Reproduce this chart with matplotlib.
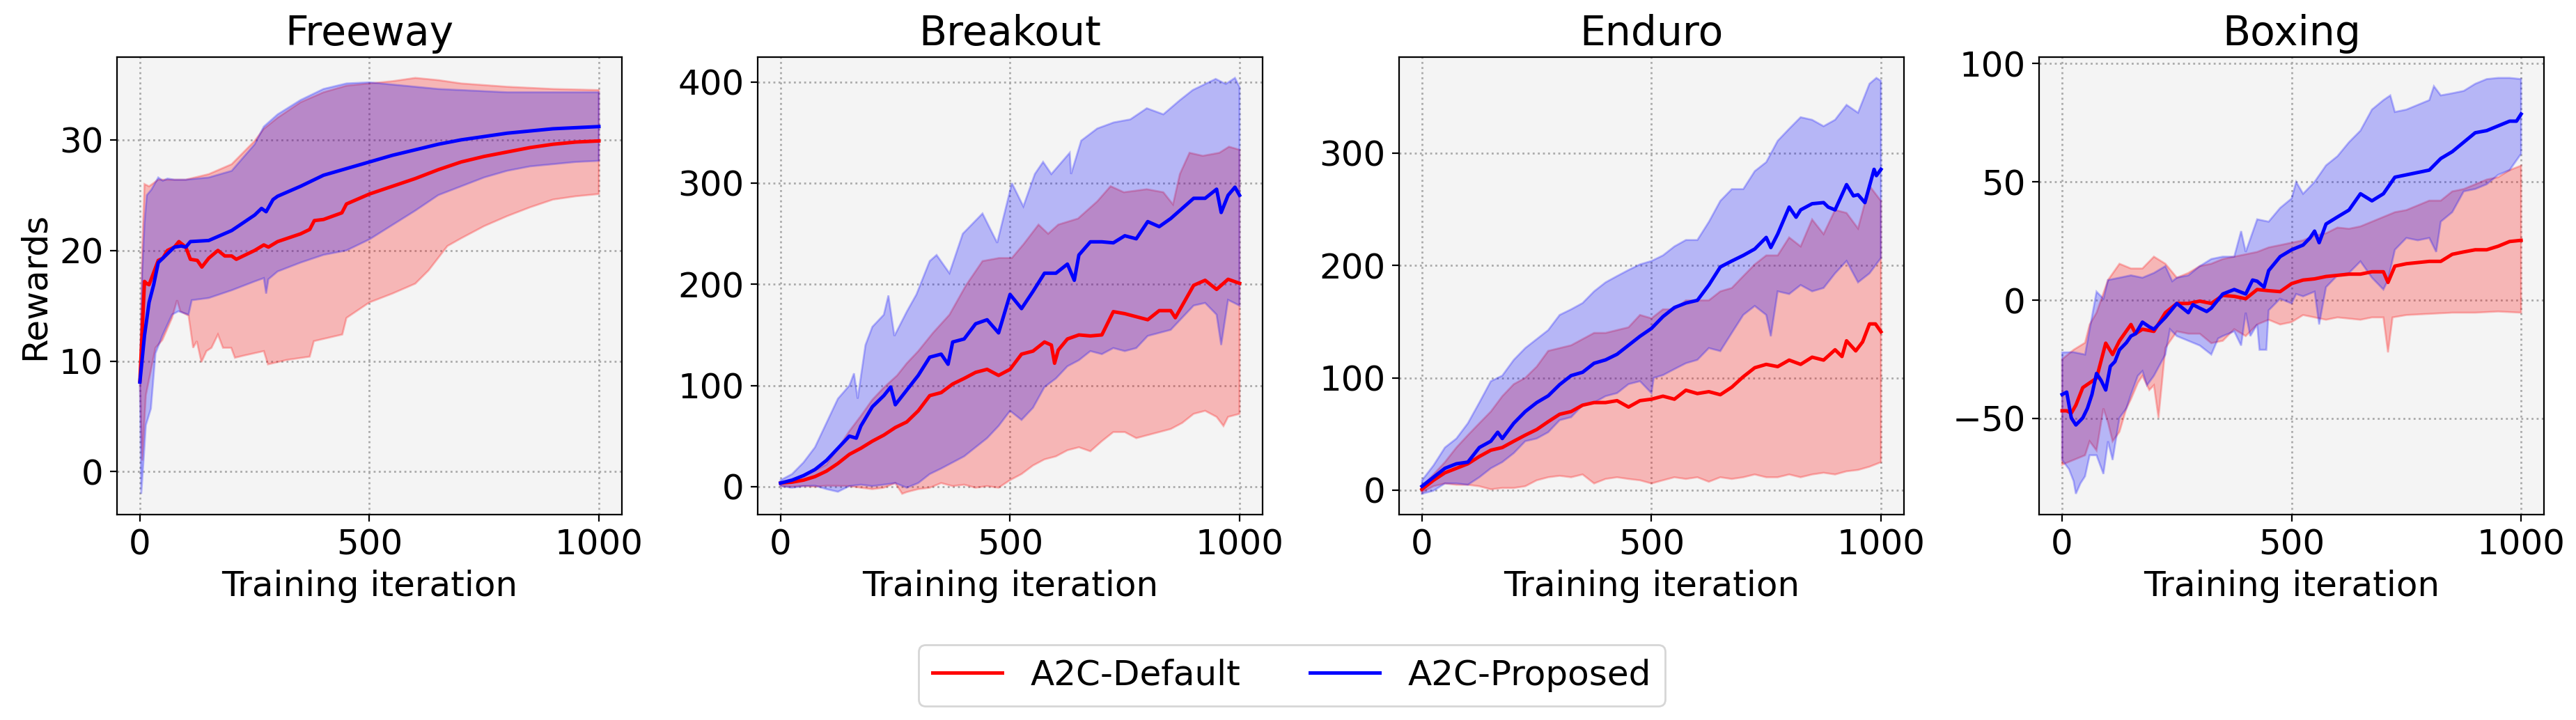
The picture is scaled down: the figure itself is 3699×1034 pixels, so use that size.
import numpy as np
import matplotlib
matplotlib.use("Agg")
import matplotlib.pyplot as plt

# (iteration, reward) points
# ---- Freeway ----
freeway_default_mean = [(0, 8.2), (10, 17.2), (15, 17.0), (20, 16.9), (30, 18.0), (40, 19.1), (50, 19.3), (60, 20.0),
                        (75, 20.3), (85, 20.8), (100, 20.3), (110, 19.2), (125, 19.1), (135, 18.5), (150, 19.3),
                        (170, 20.0), (185, 19.5), (200, 19.5), (210, 19.2), (250, 20.0), (270, 20.5), (280, 20.3),
                        (300, 20.8), (350, 21.5), (370, 21.9), (380, 22.7), (400, 22.8), (440, 23.4), (450, 24.2),
                        (500, 25.1), (550, 25.8), (600, 26.5), (650, 27.3), (700, 28.0), (750, 28.5), (800, 28.9),
                        (850, 29.3), (900, 29.6), (950, 29.8), (1000, 29.9)]
freeway_default_low = [(0, 8.2), (5, 1.0), (13, 6.9), (34, 11.2), (49, 11.9), (70, 13.9), (81, 15.5), (88, 14.5),
                       (106, 14.1), (116, 11.2), (124, 11.8), (134, 9.9), (145, 10.9), (156, 11.2), (170, 12.4),
                       (181, 11.2), (199, 11.2), (207, 10.3), (227, 10.5), (270, 10.9), (279, 9.7), (320, 10.1),
                       (370, 10.4), (379, 11.8), (441, 12.4), (450, 13.9), (500, 15.3), (550, 16.1), (600, 17.0),
                       (629, 18.2), (670, 20.4), (700, 21.1), (750, 22.2), (800, 23.1), (850, 23.9), (900, 24.6),
                       (950, 24.9), (1000, 25.1)]
freeway_default_high = [(0, 8.2), (5, 20.0), (10, 26.0), (20, 25.8), (40, 26.4), (100, 26.4), (150, 26.9),
                        (200, 27.8), (250, 29.9), (270, 31.0), (300, 32.0), (350, 33.4), (400, 34.3), (450, 34.9),
                        (500, 35.1), (550, 35.3), (600, 35.6), (650, 35.4), (700, 35.1), (800, 34.8), (900, 34.6),
                        (1000, 34.5)]
freeway_proposed_mean = [(0, 8.1), (10, 12.3), (20, 15.3), (30, 16.9), (40, 18.9), (50, 19.3), (60, 19.7),
                         (75, 20.3), (90, 20.4), (100, 20.3), (110, 20.8), (150, 20.9), (200, 21.8), (250, 23.2),
                         (265, 23.8), (275, 23.5), (290, 24.6), (300, 24.9), (350, 25.8), (400, 26.8), (450, 27.4),
                         (500, 28.0), (550, 28.6), (600, 29.1), (650, 29.6), (700, 30.0), (750, 30.3), (800, 30.6),
                         (850, 30.8), (900, 31.0), (950, 31.1), (1000, 31.2)]
freeway_proposed_low = [(0, 8.0), (3, -2.0), (8, 1.0), (13, 4.2), (24, 5.7), (34, 10.7), (49, 12.3), (70, 14.2),
                        (84, 14.5), (106, 14.2), (113, 15.5), (150, 15.7), (200, 16.4), (250, 17.2), (270, 17.5),
                        (275, 16.1), (280, 17.4), (300, 18.1), (350, 18.9), (400, 19.6), (450, 20.0), (500, 21.0),
                        (550, 22.3), (600, 23.6), (650, 25.0), (700, 25.8), (750, 26.6), (800, 27.2), (850, 27.6),
                        (900, 27.8), (950, 28.0), (1000, 28.1)]
freeway_proposed_high = [(0, 8.0), (5, 18.0), (10, 22.5), (15, 25.0), (25, 25.5), (40, 26.6), (50, 26.3),
                         (60, 26.5), (75, 26.4), (100, 26.4), (150, 26.6), (200, 27.2), (250, 29.6), (270, 31.2),
                         (300, 32.3), (350, 33.6), (400, 34.6), (450, 35.1), (500, 35.2), (550, 35.0), (600, 34.8),
                         (650, 34.6), (700, 34.5), (800, 34.3), (900, 34.3), (1000, 34.3)]

# ---- Breakout ----
breakout_default_mean = [(0, 3.6), (25, 4.5), (50, 6.5), (75, 10), (100, 15.4), (125, 23), (150, 32), (175, 38),
                         (200, 45), (225, 51), (250, 58.5), (275, 64), (300, 75), (325, 90), (350, 93), (375, 101.5),
                         (400, 107), (425, 113), (450, 116), (475, 110), (500, 116), (525, 131), (550, 134),
                         (575, 143), (590, 140), (597, 122), (605, 135), (625, 146), (650, 150), (675, 149),
                         (700, 150), (725, 173), (750, 171), (775, 168), (800, 165), (825, 174), (850, 174),
                         (860, 167), (875, 179), (900, 199), (925, 204), (950, 195), (975, 205), (1000, 201)]
breakout_default_low = [(0, 0.6), (25, 0), (50, 0.6), (75, 0), (100, 1), (150, 0.6), (175, -1), (200, -2.4),
                        (225, -1), (250, 3.6), (265, -7), (275, -5.3), (300, -2.4), (325, -1), (350, 3.6),
                        (375, 0.6), (400, 2), (425, -1), (450, 0.6), (475, -1), (500, 6.5), (525, 12.5), (550, 21),
                        (575, 27), (600, 30), (625, 36), (650, 39), (675, 35), (700, 45), (725, 54), (750, 54),
                        (775, 48), (800, 51), (825, 54), (850, 57), (875, 63), (900, 72), (925, 75), (950, 69),
                        (965, 60), (975, 69), (1000, 72)]
breakout_default_high = [(0, 3.6), (25, 6.5), (50, 11), (75, 16), (100, 22), (125, 38), (150, 55), (175, 70),
                         (200, 86), (225, 98), (254, 110), (275, 122), (300, 134), (332, 152), (368, 170),
                         (404, 199), (440, 223), (476, 226), (504, 226), (530, 240), (562, 259), (583, 250),
                         (605, 259), (648, 265), (690, 282), (719, 297), (748, 291), (798, 294), (834, 291),
                         (855, 279), (870, 309), (891, 330), (920, 327), (956, 330), (977, 336), (1000, 333)]
breakout_proposed_mean = [(0, 3.6), (25, 6.5), (50, 11), (75, 17), (100, 26), (125, 38), (150, 50), (165, 48),
                          (175, 60), (200, 79), (225, 90), (240, 98.5), (250, 81), (275, 95.5), (300, 110),
                          (325, 128), (350, 131), (365, 121), (375, 143), (400, 146), (425, 161), (450, 165),
                          (475, 152), (500, 190), (525, 176), (550, 193), (575, 211), (600, 211), (625, 220),
                          (640, 204), (650, 229), (675, 242), (700, 242), (725, 241), (750, 248), (775, 245),
                          (800, 262), (825, 257), (850, 265), (875, 275), (900, 285), (925, 285), (950, 294),
                          (960, 271), (975, 288), (990, 296), (1000, 288)]
breakout_proposed_low = [(0, 0.6), (25, -1), (50, 0.6), (75, 1), (100, -2.4), (125, -5), (150, 0.6), (175, 2),
                         (200, 0.6), (225, 2), (250, 3.6), (275, -1), (300, 3.6), (325, 12.5), (350, 18), (375, 24),
                         (400, 30), (425, 39), (450, 48), (475, 60), (500, 75), (525, 66), (550, 78), (575, 98.5),
                         (600, 107), (625, 119), (650, 125), (675, 134), (700, 131), (725, 137), (750, 134),
                         (775, 137), (800, 149), (825, 152), (850, 155), (875, 167), (900, 179), (925, 181.6),
                         (950, 170), (960, 140), (975, 184.6), (1000, 179)]
breakout_proposed_high = [(0, 6.5), (25, 12.5), (50, 24), (75, 39), (100, 63), (125, 87), (150, 100), (160, 112),
                          (168, 87), (185, 140), (200, 158), (225, 170), (235, 189), (248, 149), (275, 173),
                          (296, 190), (325, 223), (340, 229), (368, 211), (397, 250), (440, 270), (472, 241),
                          (504, 300), (529, 277), (554, 309), (572, 321), (590, 309), (630, 330), (633, 309),
                          (655, 342), (690, 354), (726, 360), (762, 363), (798, 374), (834, 368), (870, 382),
                          (898, 392), (948, 403), (970, 398), (990, 404), (1000, 395)]

# ---- Enduro ----
enduro_default_mean = [(0, 0.8), (25, 8.8), (50, 15.5), (75, 19.5), (100, 23.5), (125, 30), (150, 35.6),
                       (175, 38), (200, 43.6), (225, 49), (250, 54), (275, 61), (300, 67.6), (325, 70),
                       (350, 75.7), (375, 78), (400, 78), (425, 79.7), (450, 74), (475, 79.7), (500, 81),
                       (525, 83.7), (550, 81), (575, 89), (600, 86), (625, 87.7), (650, 85), (675, 91.7),
                       (700, 101), (725, 109), (750, 112), (775, 110), (800, 115.8), (825, 112), (850, 118.4),
                       (875, 115.8), (900, 125), (915, 119), (925, 133), (945, 124), (960, 132), (975, 148),
                       (988, 148), (1000, 141)]
enduro_default_low = [(0, -1.9), (25, 3.5), (50, 6), (75, 4.8), (100, 4.8), (125, 3.5), (150, 0.8), (175, 2),
                      (200, 2), (225, 3.5), (250, 8.8), (275, 11.5), (300, 12.8), (325, 11.5), (350, 14),
                      (375, 6), (400, 10), (425, 11.5), (450, 10), (475, 8.8), (500, 6), (525, 8.8), (550, 11.5),
                      (575, 10), (600, 11.5), (625, 7.5), (650, 11.5), (675, 10), (700, 11.5), (725, 14),
                      (750, 11.5), (775, 11.5), (800, 14), (825, 11.5), (850, 14), (875, 15.5), (900, 14),
                      (925, 16.8), (950, 18), (975, 20.9), (1000, 24.9)]
enduro_default_high = [(0, 3.5), (25, 14), (50, 25), (75, 38), (100, 49), (125, 59.6), (150, 70), (175, 83.7),
                       (200, 94.4), (225, 100), (250, 110), (275, 124), (300, 126.5), (325, 129), (350, 134.5),
                       (375, 140), (400, 140), (425, 142.5), (450, 145), (475, 156), (500, 153), (525, 161),
                       (550, 161), (575, 169), (600, 169), (625, 169), (650, 177), (675, 180), (700, 190.6),
                       (725, 201), (750, 209), (775, 209), (800, 225), (825, 217), (850, 241), (875, 228),
                       (900, 249.5), (925, 246.8), (950, 233), (975, 270.9), (1000, 257.5)]
enduro_proposed_mean = [(0, 3.5), (25, 11.5), (50, 19.5), (75, 23.5), (100, 25), (125, 38), (150, 43.6),
                        (165, 51.6), (175, 46), (200, 59.6), (225, 70), (250, 78), (275, 84), (300, 94), (325, 102),
                        (350, 105), (375, 113), (400, 116), (425, 121), (450, 129), (475, 137), (500, 144),
                        (525, 154.5), (550, 162.6), (575, 166.6), (600, 169), (625, 182.6), (650, 198.7),
                        (675, 204), (700, 209), (725, 214.7), (750, 225), (760, 216), (775, 228), (800, 252),
                        (815, 243), (825, 249.5), (850, 255), (875, 256), (885, 252), (900, 249.5), (925, 272),
                        (940, 262), (950, 263), (965, 256), (985, 285.6), (990, 280), (1000, 285.6)]
enduro_proposed_low = [(0, -3.2), (25, -0.5), (50, 6), (75, 6), (100, 4.8), (125, 11.5), (150, 19.5), (175, 25),
                       (200, 33), (225, 43.6), (250, 46), (275, 51.6), (300, 62.3), (325, 65), (350, 75.7),
                       (375, 78), (400, 83.7), (425, 86.4), (450, 94.4), (475, 97), (500, 86.4), (505, 100),
                       (525, 102.4), (550, 107.8), (575, 113), (600, 116), (625, 126.5), (650, 123.8), (675, 140),
                       (700, 156), (725, 164), (750, 156), (760, 137), (775, 177), (800, 174.6), (825, 182.6),
                       (850, 177), (875, 180), (900, 193), (925, 204), (950, 185), (975, 193), (1000, 206.7)]
enduro_proposed_high = [(0, 8.8), (25, 22), (50, 38), (75, 46), (100, 59.6), (125, 78), (150, 97), (175, 102),
                        (200, 116), (225, 126.5), (250, 134.5), (275, 142.5), (300, 156), (325, 161), (350, 166.6),
                        (375, 177), (400, 185), (425, 190.6), (450, 196), (475, 201), (500, 204), (525, 209),
                        (550, 217), (575, 222.7), (600, 222.7), (625, 238.8), (650, 257.5), (675, 268), (700, 268),
                        (725, 284), (750, 292), (775, 311), (800, 321.7), (825, 332), (850, 329.7), (875, 324),
                        (900, 329.7), (925, 343), (950, 336), (975, 361.8), (990, 367), (1000, 364.4)]

# ---- Boxing ----
boxing_default_mean = [(0, -46.8), (10, -46.8), (20, -47.8), (30, -44.4), (45, -37), (60, -35), (75, -33),
                       (95, -18.2), (110, -23), (125, -17.2), (150, -10.3), (160, -14.2), (175, -12.3), (200, -13.2),
                       (225, -5.3), (250, -1.4), (275, -1.4), (300, -0.4), (325, -1.4), (350, 2), (375, 1.6),
                       (400, 0.6), (425, 4.5), (450, 4), (475, 3.6), (500, 7), (525, 8.5), (550, 9), (575, 10),
                       (600, 10.5), (625, 11), (650, 11), (675, 12), (700, 12), (710, 7.5), (725, 14.4),
                       (750, 15.4), (775, 15.9), (800, 16.4), (825, 16.4), (850, 19.4), (875, 20.4), (900, 21.3),
                       (925, 21.3), (950, 22.8), (975, 24.8), (1000, 25.3)]
boxing_default_low = [(0, -69.6), (25, -67.6), (50, -65.6), (60, -59.7), (75, -63.6), (90, -45.8), (100, -51.8),
                      (110, -59.7), (125, -55.7), (140, -45.8), (150, -41.9), (165, -35), (175, -32), (190, -38),
                      (200, -36), (210, -49.8), (225, -20.2), (250, -13.2), (275, -14.2), (300, -14.2),
                      (325, -18.2), (350, -17.2), (375, -12.3), (400, -15.2), (425, -10.3), (450, -8.3),
                      (475, -10.3), (500, -9.3), (525, -6.3), (550, -7.3), (575, -8.3), (600, -7.3), (625, -7.8),
                      (650, -8.3), (675, -7.3), (700, -7.3), (710, -22.1), (720, -7.3), (750, -6.3), (800, -5.8),
                      (850, -5.3), (900, -5.3), (950, -4.8), (1000, -5.3)]
boxing_default_high = [(0, -25), (25, -21), (50, -18), (60, -10.3), (75, -5.3), (100, 8.5), (125, 15.4),
                       (150, 13.4), (175, 13.4), (200, 18.4), (225, 15.4), (250, 9.5), (275, 11.5), (300, 14.4),
                       (325, 15.4), (350, 17.4), (375, 18.4), (400, 19.4), (425, 20.4), (450, 22.3), (475, 23.3),
                       (500, 24.3), (525, 25.3), (550, 27.3), (575, 28.3), (600, 30.7), (625, 30.2), (650, 31.2),
                       (675, 33.2), (700, 35.2), (725, 37.2), (750, 38.1), (775, 40.1), (800, 42.1), (825, 42.1),
                       (850, 46), (875, 47), (900, 49), (925, 51), (950, 52), (975, 55), (1000, 56.9)]
boxing_proposed_mean = [(0, -39.9), (10, -38.9), (20, -49.8), (30, -52.8), (45, -49.8), (55, -45.8), (65, -39.9),
                        (75, -31), (85, -34), (95, -38), (105, -28), (115, -26), (125, -21), (140, -18),
                        (150, -15.2), (160, -14.2), (175, -9.3), (190, -11.3), (200, -12.3), (215, -9.3),
                        (225, -7.3), (250, -1.4), (275, -5.3), (285, -1.9), (300, -3.4), (315, -4.8), (325, -3.4),
                        (350, 2.6), (375, 4.5), (400, 2.6), (415, 8.5), (425, 8), (440, 5.5), (450, 12.5),
                        (475, 18.4), (500, 21.3), (525, 23.3), (540, 26.3), (550, 29.2), (560, 24.3), (575, 32.2),
                        (600, 35.2), (625, 38.1), (650, 45), (675, 42), (700, 45), (725, 52), (750, 53), (775, 54),
                        (800, 55), (825, 59.9), (850, 62.8), (875, 66.8), (900, 70.8), (925, 71.7), (950, 73.7),
                        (975, 75.7), (990, 75.7), (1000, 78.7)]
boxing_proposed_low = [(0, -67.6), (15, -71.5), (25, -76.5), (30, -81.9), (40, -77.5), (50, -74.5), (60, -65.6),
                       (75, -65.6), (90, -73.5), (100, -59.7), (110, -67.6), (125, -49.8), (140, -45.8),
                       (150, -39.9), (165, -32), (175, -30), (185, -36), (200, -32), (225, -23), (235, -12.3),
                       (250, -15.2), (275, -17.2), (300, -19.2), (325, -23), (340, -16.2), (350, -15.2),
                       (375, -13.2), (390, -19.2), (400, -5.3), (410, -15.2), (425, -10.3), (430, -21),
                       (445, -21), (450, -4.3), (475, 0.6), (500, -1.4), (510, 2.6), (525, 1.6), (550, 3.6),
                       (560, -10.3), (575, 5.5), (600, 10.5), (625, 11.5), (650, 16.4), (675, 9.5), (700, 4.5),
                       (710, 8.5), (725, 21.3), (750, 26.3), (775, 25.3), (800, 26.3), (815, 20.4), (825, 33.2),
                       (850, 37.2), (875, 46), (900, 47), (925, 49), (950, 53), (975, 55), (1000, 61.9)]
boxing_proposed_high = [(0, -22.1), (25, -22), (50, -23), (75, 3.6), (90, 0.6), (100, 8.5), (125, 9.5),
                        (150, 10.5), (175, 9.5), (200, 11.5), (225, 14.4), (240, 8), (250, 9.5), (275, 10.5),
                        (300, 14.4), (325, 17.4), (350, 18.4), (375, 18.4), (390, 29.2), (400, 20.4), (425, 34.2),
                        (450, 33.2), (475, 39), (500, 43), (510, 50), (525, 45), (550, 50), (575, 57), (600, 60.9),
                        (625, 66.8), (650, 71.7), (675, 80.6), (700, 84.6), (715, 86.6), (725, 79.6), (750, 80.6),
                        (775, 82.6), (800, 84.6), (810, 90.5), (825, 86.6), (850, 87.5), (875, 88.5), (900, 91.5),
                        (925, 93.5), (950, 94), (975, 94), (1000, 93.5)]

games = ["Freeway", "Breakout", "Enduro", "Boxing"]
default_runs = [
    (freeway_default_mean, freeway_default_low, freeway_default_high),
    (breakout_default_mean, breakout_default_low, breakout_default_high),
    (enduro_default_mean, enduro_default_low, enduro_default_high),
    (boxing_default_mean, boxing_default_low, boxing_default_high),
]
proposed_runs = [
    (freeway_proposed_mean, freeway_proposed_low, freeway_proposed_high),
    (breakout_proposed_mean, breakout_proposed_low, breakout_proposed_high),
    (enduro_proposed_mean, enduro_proposed_low, enduro_proposed_high),
    (boxing_proposed_mean, boxing_proposed_low, boxing_proposed_high),
]


def xy(points):
    arr = np.array(points, dtype=float)
    return arr[:, 0], arr[:, 1]


def draw_band(ax, run, color):
    mean, low, high = run
    lx, ly = xy(low)
    hx, hy = xy(high)
    # band between the lowest and highest run
    ax.fill(np.r_[hx, lx[::-1]], np.r_[hy, ly[::-1]], color=color, alpha=0.25)
    return xy(mean)


fig = plt.figure(figsize=(18.495, 5.17), dpi=200)
lefts = [0.0454, 0.2941, 0.5431, 0.7916]

for i, game in enumerate(games):
    ax = fig.add_axes([lefts[i], 0.2853, 0.196, 0.6354])
    ax.set_facecolor("#f4f4f4")
    rx, ry = draw_band(ax, default_runs[i], "red")
    bx, by = draw_band(ax, proposed_runs[i], "blue")
    ax.plot(rx, ry, color="red", lw=1.8, label="A2C-Default")
    ax.plot(bx, by, color="blue", lw=1.8, label="A2C-Proposed")
    ax.set_title(game, fontsize=21)
    ax.set_xlabel("Training iteration", fontsize=18)
    if i == 0:
        ax.set_ylabel("Rewards", fontsize=18)
    ax.set_xticks([0, 500, 1000])
    ax.tick_params(labelsize=18)
    ax.grid(True, linestyle=":", linewidth=1.0, color="#aaaaaa")
    ax.set_axisbelow(True)

handles, labels = ax.get_legend_handles_labels()
fig.legend(handles, labels, loc="center", bbox_to_anchor=(0.5015, 0.062), ncol=2, fontsize=18)

fig.savefig("out.png", dpi=200)
